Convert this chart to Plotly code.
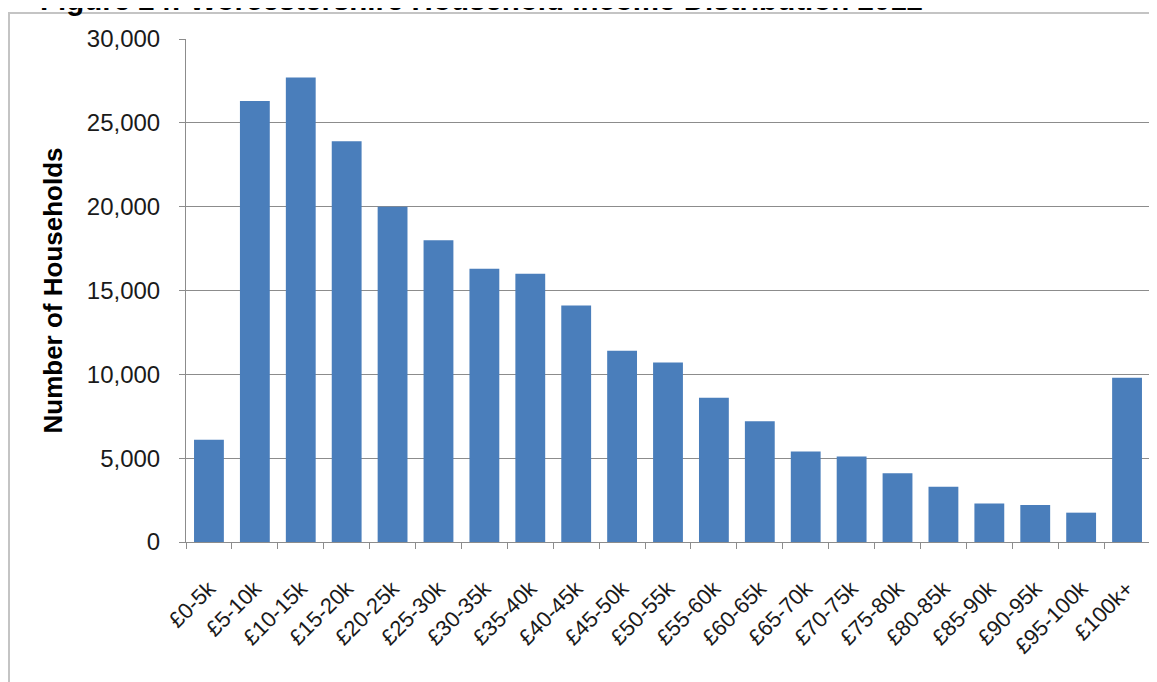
import plotly.graph_objects as go

categories = ["£0-5k", "£5-10k", "£10-15k", "£15-20k", "£20-25k", "£25-30k", "£30-35k",
              "£35-40k", "£40-45k", "£45-50k", "£50-55k", "£55-60k", "£60-65k", "£65-70k",
              "£70-75k", "£75-80k", "£80-85k", "£85-90k", "£90-95k", "£95-100k", "£100k+"]
households = [6100, 26300, 27700, 23900, 20000, 18000, 16300,
              16000, 14100, 11400, 10700, 8600, 7200, 5400,
              5100, 4100, 3300, 2300, 2200, 1750, 9800]
y_ticks = [0, 5000, 10000, 15000, 20000, 25000, 30000]
y_tick_labels = ["0", "5,000", "10,000", "15,000", "20,000", "25,000", "30,000"]

title_text = "Figure 24: Worcestershire Household Income Distribution 2012"
y_title = "Number of Households"

FONT = "Liberation Sans, Arial, sans-serif"
OFF = 8  # default page body margin
W, H = 1157 - OFF, 682 - OFF
# plot area in absolute page pixels
L, R, T, B = 186, 1150, 39, 542


def px(x):
    return (x - L) / (R - L)


def py(y):
    return (B - y) / (B - T)


fig = go.Figure(go.Bar(
    x=categories, y=households,
    marker=dict(color="#4A7EBB", line=dict(width=0)),
    width=0.65,
))

fig.update_layout(
    width=W, height=H,
    margin=dict(l=L - OFF, r=W - (R - OFF), t=T - OFF, b=H - (B - OFF), autoexpand=False),
    paper_bgcolor="white", plot_bgcolor="white",
    showlegend=False,
    font=dict(family=FONT, color="#1a1a1a"),
    bargap=0.35,
)

fig.update_xaxes(
    type="category",
    showgrid=False,
    showline=True, linecolor="#8c8c8c", linewidth=1,
    ticks="outside", tickson="boundaries", ticklen=6, tickcolor="#8c8c8c",
    tickangle=-45,
    tickfont=dict(size=22, family=FONT, color="#1a1a1a"),
    ticklabelstandoff=24,
)

fig.update_yaxes(
    range=[0, 30000],
    tickvals=y_ticks, ticktext=y_tick_labels,
    showgrid=True, gridcolor="#8c8c8c", gridwidth=1,
    showline=True, linecolor="#8c8c8c", linewidth=1,
    ticks="outside", ticklen=6, tickcolor="#8c8c8c",
    tickfont=dict(size=24, family=FONT, color="#1a1a1a"),
    ticklabelstandoff=14,
    zeroline=False,
)

fig.update_layout(
    shapes=[
        # outer chart frame
        dict(type="rect", xref="paper", yref="paper",
             x0=px(9), x1=px(1200), y0=py(720), y1=py(13),
             line=dict(color="#c4c4c4", width=2), layer="above"),
        # right border of plot area
        dict(type="line", xref="paper", yref="paper",
             x0=1, x1=1, y0=0, y1=1,
             line=dict(color="#b4b4b4", width=1.5), layer="above"),
    ],
    annotations=[
        dict(text="<b>" + title_text + "</b>", xref="paper", yref="paper",
             x=px(38), y=py(18), xanchor="left", yanchor="bottom",
             showarrow=False, font=dict(size=29.5, family=FONT, color="#000000")),
        dict(text="<b>" + y_title + "</b>", xref="paper", yref="paper",
             x=px(52), y=0.5, xanchor="center", yanchor="middle", textangle=-90,
             showarrow=False, font=dict(size=26, family=FONT, color="#000000")),
    ],
)

fig.write_html("out.html")
